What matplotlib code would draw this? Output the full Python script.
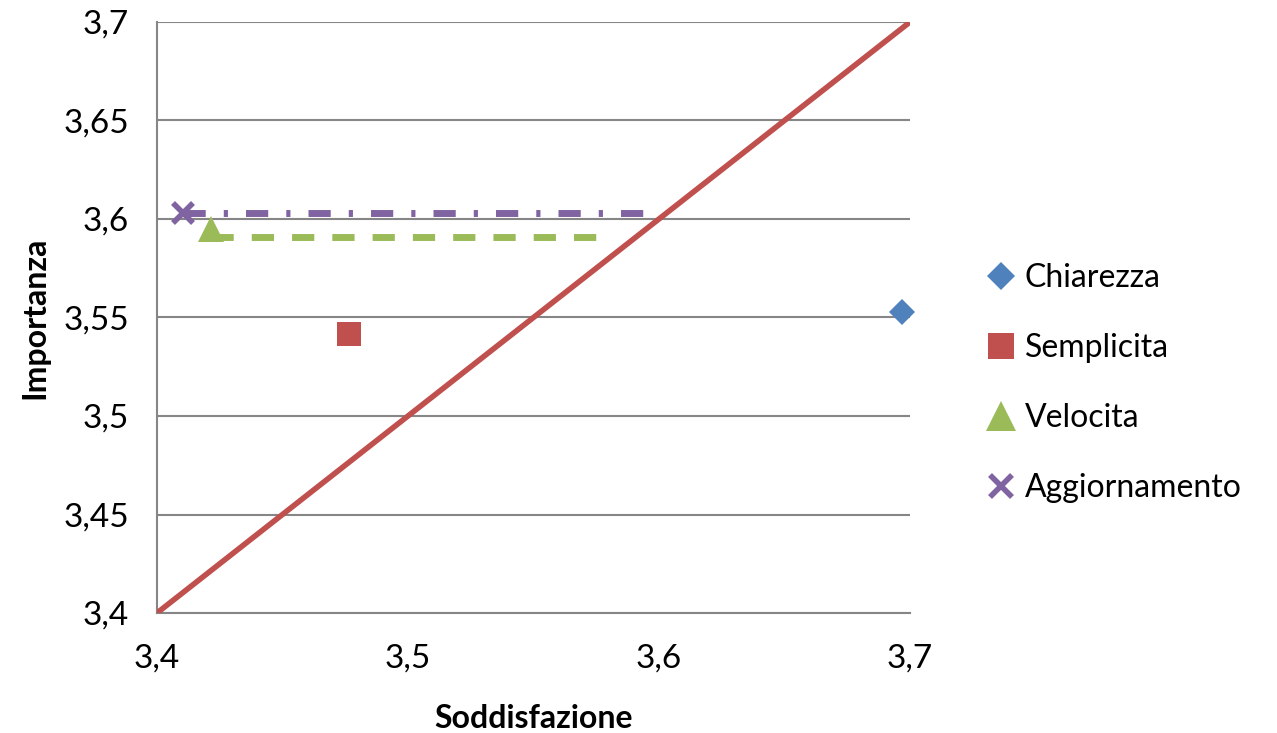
import numpy as np
import matplotlib.pyplot as plt

plt.rcParams['font.family'] = ['Lato', 'DejaVu Sans']

# data
names = ['Chiarezza', 'Semplicita', 'Velocita', 'Aggiornamento']
sodd = [3.697, 3.4765, 3.4215, 3.4104]
imp = [3.553, 3.5416, 3.595, 3.603]
markers = ['D', 's', '^', 'x']
colors = ['#4F81BD', '#C0504D', '#9BBB59', '#8064A2']
msizes = [13, 17, 19, 15]

diag_x = [3.4, 3.7]
diag_y = [3.4, 3.7]

velo_x = [3.4215, 3.576]
velo_y = [3.591, 3.591]
aggi_x = [3.4104, 3.5965]
aggi_y = [3.603, 3.603]

xticks = [3.4, 3.5, 3.6, 3.7]
yticks = [3.4, 3.45, 3.5, 3.55, 3.6, 3.65, 3.7]

fig = plt.figure(figsize=(12.77, 7.33), dpi=100)
ax = fig.add_axes([0.1229, 0.1637, 0.7126 - 0.1229, 0.970 - 0.1637])

ax.plot(diag_x, diag_y, color='#C0504D', lw=4, solid_capstyle='butt', zorder=3)
ax.plot(velo_x, velo_y, color='#9BBB59', lw=5, dashes=(3.2, 2.6), zorder=3)
ax.plot(aggi_x, aggi_y, color='#8064A2', lw=5, dashes=(3.2, 2.6, 0.6, 2.6), zorder=3)

for n, x, y, m, c, s in zip(names, sodd, imp, markers, colors, msizes):
    ax.plot([x], [y], linestyle='none', marker=m, color=c, markersize=s,
            markeredgewidth=4 if m == 'x' else 0, label=n, zorder=4, clip_on=False)

ax.set_xlim(3.4, 3.7)
ax.set_ylim(3.4, 3.7)
ax.set_xticks(xticks)
ax.set_yticks(yticks)
ax.set_xticklabels([str(t).replace('.', ',') for t in xticks])
ax.set_yticklabels([str(t).replace('.', ',') for t in yticks])
ax.tick_params(length=0, labelsize=24, pad=22)
ax.tick_params(axis='y', pad=20)
ax.grid(axis='y', color='#868686', lw=1.5)
ax.set_axisbelow(True)
for s in ['top', 'right']:
    ax.spines[s].set_visible(False)
for s in ['left', 'bottom']:
    ax.spines[s].set_color('#868686')
    ax.spines[s].set_linewidth(1.5)

ax.set_xlabel('Soddisfazione', fontsize=23, fontweight='bold', labelpad=22)
ax.set_ylabel('Importanza', fontsize=23, fontweight='bold', labelpad=10)

leg = ax.legend(loc='center left', bbox_to_anchor=(1.078, 0.389), frameon=False,
                fontsize=23, handlelength=1.0, handletextpad=0.25, labelspacing=1.25,
                markerscale=1.1, borderpad=0)

fig.savefig('out.png', dpi=100)
